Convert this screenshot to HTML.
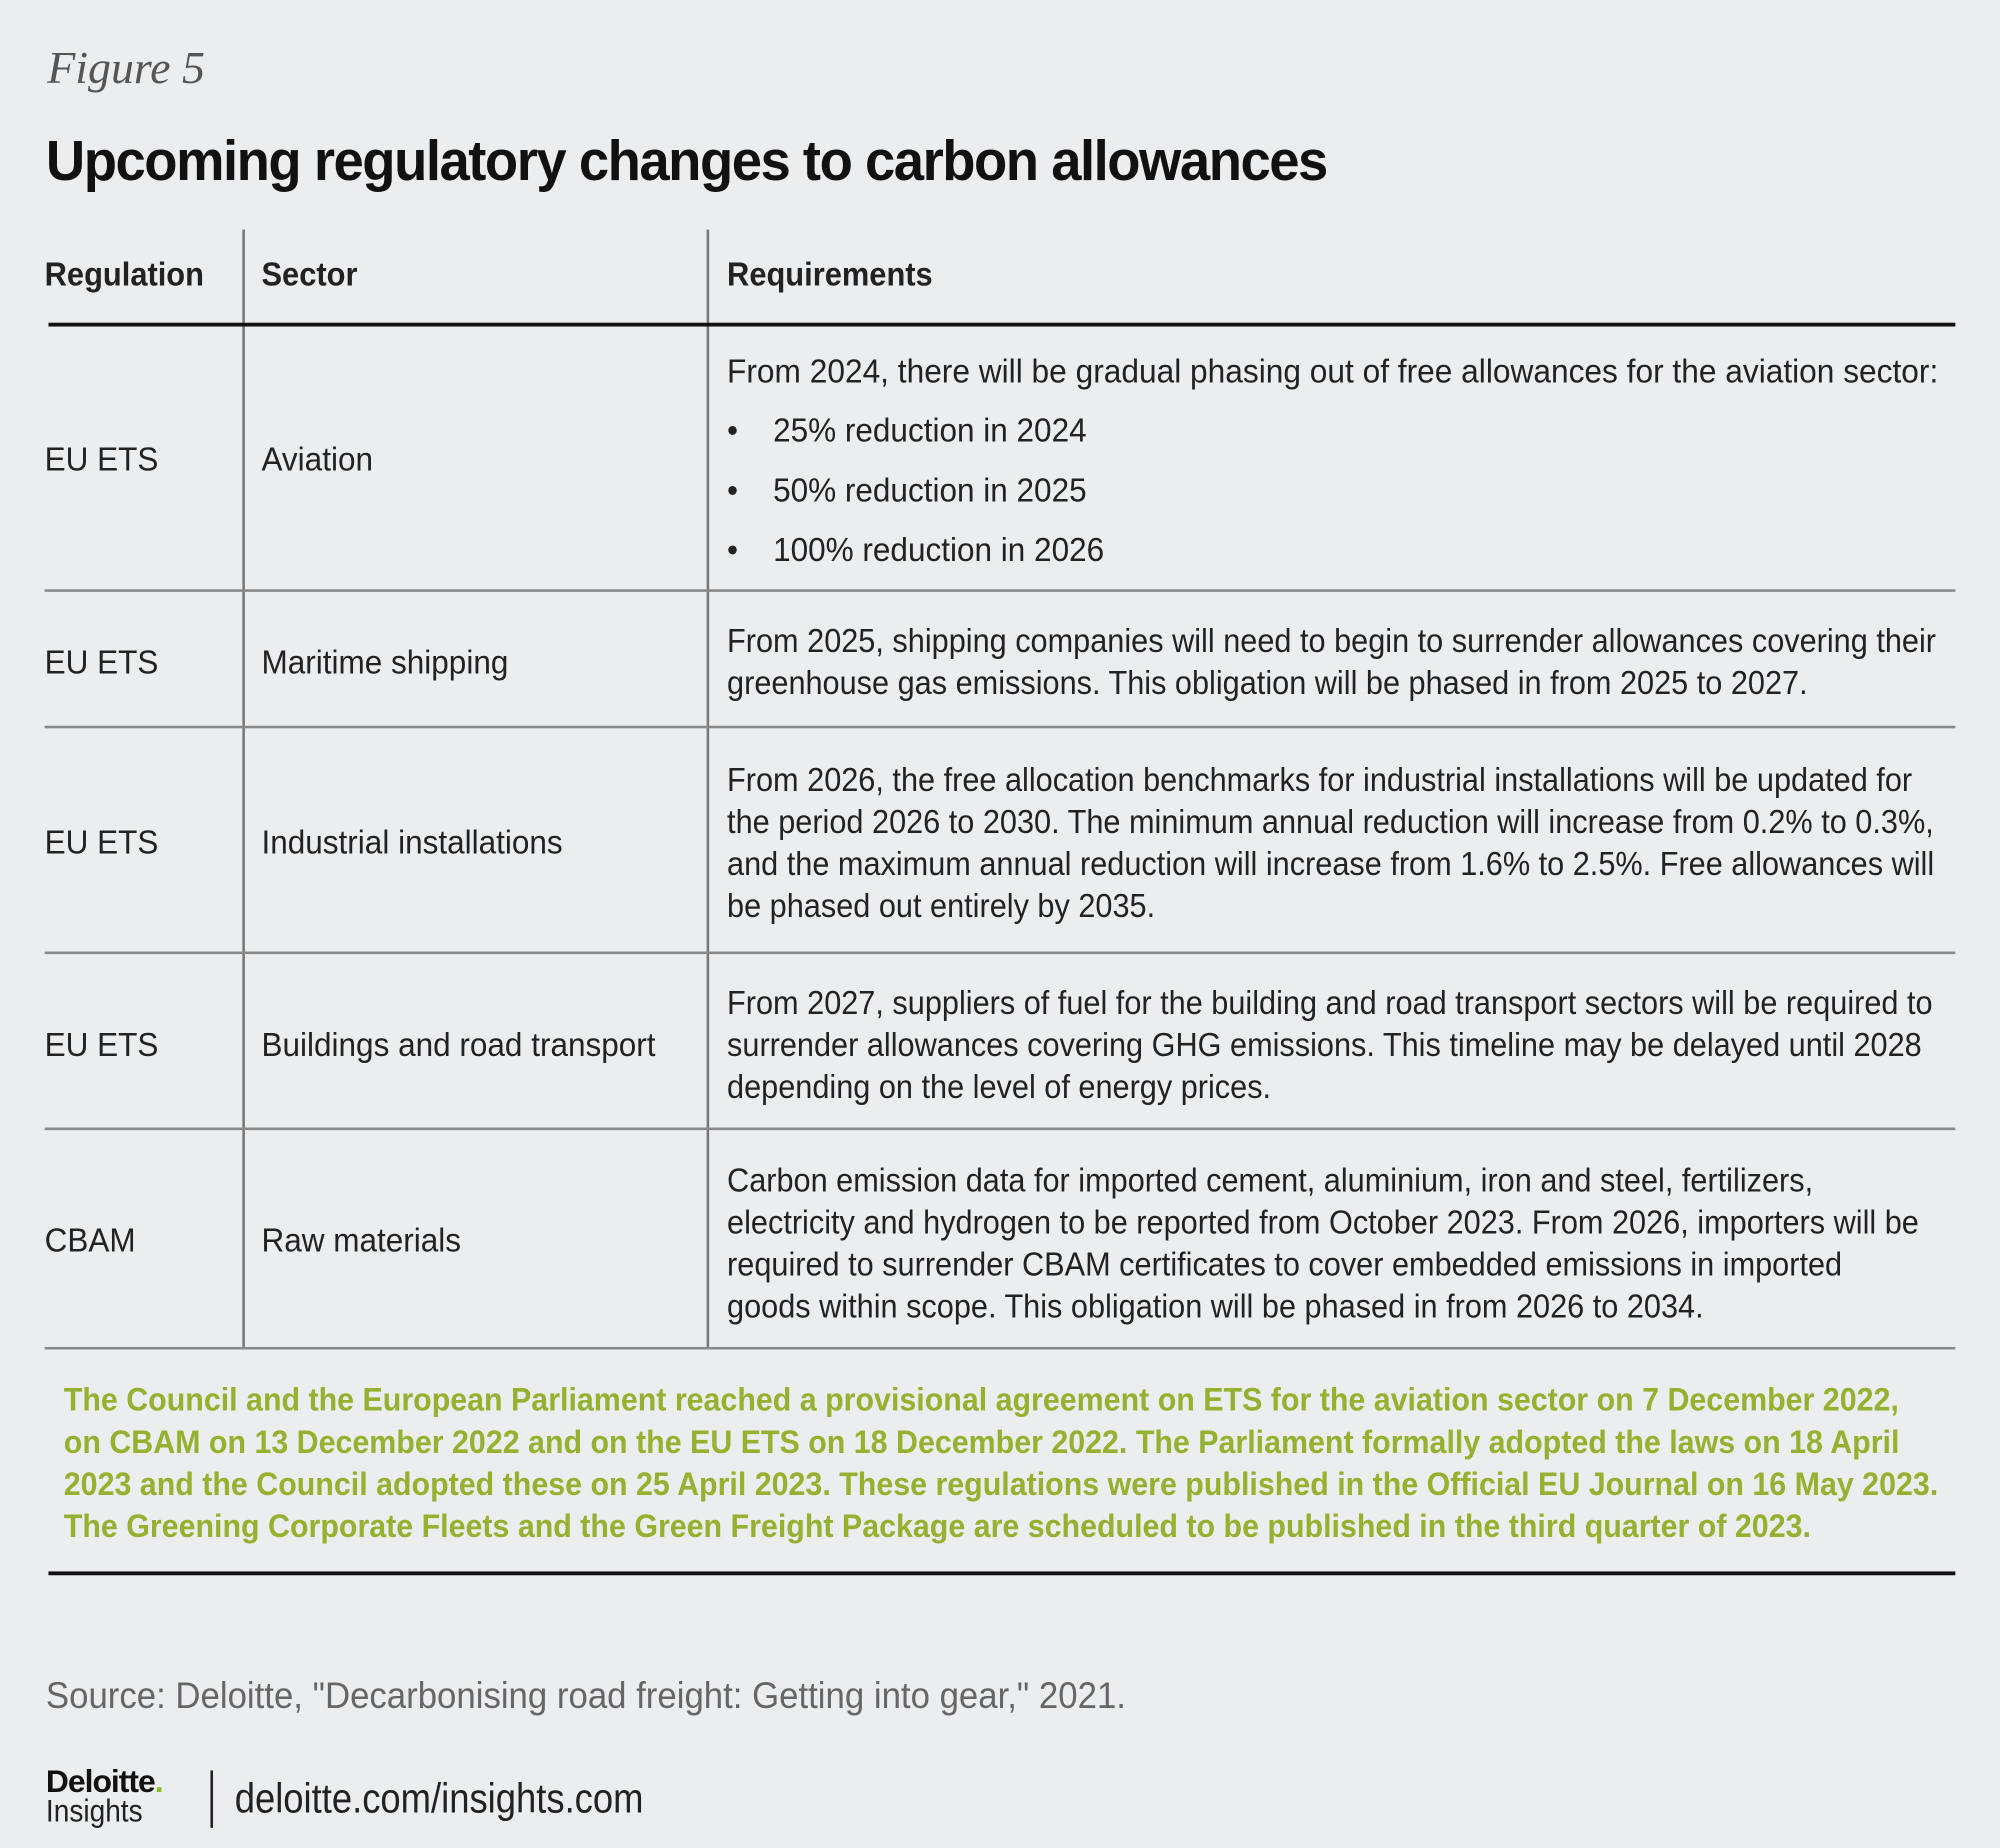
<!DOCTYPE html>
<html><head><meta charset="utf-8"><style>
html,body{margin:0;padding:0;background:#ecedef;}
#wrap{width:2000px;height:1848px;overflow:hidden;position:relative;background:#ecedef;}
#page{position:absolute;left:0;top:0;width:1568px;height:1449px;transform:scale(1.27551);transform-origin:0 0;font-family:"Liberation Sans Narrow","Liberation Sans",sans-serif;color:#222;}
.a{position:absolute;white-space:nowrap;transform-origin:0 0;}
.t{font-size:26px;line-height:33px;transform:scaleX(0.95);}
.r{transform:scaleX(0.925);}
.hd{font-weight:bold;font-size:26px;top:200px;transform:scaleX(0.93);}
.vl{position:absolute;width:1.5px;background:#777;top:180px;height:877px;}
.hl{position:absolute;left:35px;width:1498px;height:2px;background:#888;}
.g{color:#94b12f;font-weight:bold;font-size:25.5px;line-height:33px;transform:scaleX(0.934);}
</style></head><body>
<div id="wrap"><div id="page">
<div class="a" style="left:37px;top:32px;font-family:'Liberation Serif',serif;font-style:italic;font-size:36px;color:#555;">Figure 5</div>
<div class="a" style="left:36px;top:102px;font-weight:bold;font-size:44px;letter-spacing:-1.2px;color:#111;transform:scaleX(0.97);">Upcoming regulatory changes to carbon allowances</div>

<div class="vl" style="left:190px;"></div>
<div class="vl" style="left:554px;"></div>
<div class="a hd" style="left:35px;">Regulation</div>
<div class="a hd" style="left:205px;">Sector</div>
<div class="a hd" style="left:570px;">Requirements</div>
<div class="a" style="left:38px;top:253px;width:1495px;height:3px;background:#111;"></div>

<div class="hl" style="top:462px;"></div>
<div class="hl" style="top:569px;"></div>
<div class="hl" style="top:746px;"></div>
<div class="hl" style="top:884px;"></div>
<div class="hl" style="top:1056px;"></div>

<div class="a t" style="left:35px;top:344px;">EU ETS</div>
<div class="a t" style="left:205px;top:344px;">Aviation</div>
<div class="a t r" style="left:570px;top:275px;transform:scaleX(0.955);">From 2024, there will be gradual phasing out of free allowances for the aviation sector:</div>
<div class="a t" style="left:570px;top:321px;">•<span style="position:absolute;left:38px;">25% reduction in 2024</span></div>
<div class="a t" style="left:570px;top:368px;">•<span style="position:absolute;left:38px;">50% reduction in 2025</span></div>
<div class="a t" style="left:570px;top:415px;">•<span style="position:absolute;left:38px;">100% reduction in 2026</span></div>

<div class="a t" style="left:35px;top:503px;">EU ETS</div>
<div class="a t" style="left:205px;top:503px;">Maritime shipping</div>
<div class="a t r" style="left:570px;top:486px;">From 2025, shipping companies will need to begin to surrender allowances covering their<br>greenhouse gas emissions. This obligation will be phased in from 2025 to 2027.</div>

<div class="a t" style="left:35px;top:644px;">EU ETS</div>
<div class="a t" style="left:205px;top:644px;">Industrial installations</div>
<div class="a t r" style="left:570px;top:595px;">From 2026, the free allocation benchmarks for industrial installations will be updated for<br>the period 2026 to 2030. The minimum annual reduction will increase from 0.2% to 0.3%,<br>and the maximum annual reduction will increase from 1.6% to 2.5%. Free allowances will<br>be phased out entirely by 2035.</div>

<div class="a t" style="left:35px;top:803px;">EU ETS</div>
<div class="a t" style="left:205px;top:803px;">Buildings and road transport</div>
<div class="a t r" style="left:570px;top:770px;">From 2027, suppliers of fuel for the building and road transport sectors will be required to<br>surrender allowances covering GHG emissions. This timeline may be delayed until 2028<br>depending on the level of energy prices.</div>

<div class="a t" style="left:35px;top:956px;">CBAM</div>
<div class="a t" style="left:205px;top:956px;">Raw materials</div>
<div class="a t r" style="left:570px;top:909px;">Carbon emission data for imported cement, aluminium, iron and steel, fertilizers,<br>electricity and hydrogen to be reported from October 2023. From 2026, importers will be<br>required to surrender CBAM certificates to cover embedded emissions in imported<br>goods within scope. This obligation will be phased in from 2026 to 2034.</div>

<div class="a g" style="left:50px;top:1082px;">The Council and the European Parliament reached a provisional agreement on ETS for the aviation sector on 7 December 2022,<br>on CBAM on 13 December 2022 and on the EU ETS on 18 December 2022. The Parliament formally adopted the laws on 18 April<br>2023 and the Council adopted these on 25 April 2023. These regulations were published in the Official EU Journal on 16 May 2023.<br>The Greening Corporate Fleets and the Green Freight Package are scheduled to be published in the third quarter of 2023.</div>
<div class="a" style="left:38px;top:1232px;width:1495px;height:3px;background:#111;"></div>

<div class="a" style="left:36px;top:1314px;font-size:29px;color:#666;transform:scaleX(0.94);">Source: Deloitte, "Decarbonising road freight: Getting into gear," 2021.</div>
<div class="a" style="left:36px;top:1383px;font-family:'Liberation Sans',sans-serif;font-weight:bold;font-size:25px;letter-spacing:-0.8px;color:#111;">Deloitte<span style="color:#86bc25;">.</span></div>
<div class="a" style="left:36px;top:1406px;font-size:25px;color:#222;transform:scaleX(0.88);">Insights</div>
<div class="a" style="left:165px;top:1388px;width:1.5px;height:45px;background:#222;"></div>
<div class="a" style="left:184px;top:1391px;font-size:33px;color:#222;transform:scaleX(0.865);">deloitte.com/insights.com</div>
</div></div>
</body></html>
